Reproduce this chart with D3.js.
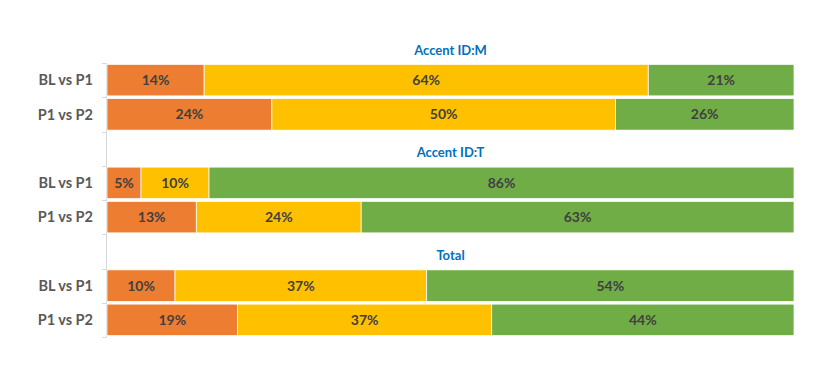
<!DOCTYPE html>
<html><head><meta charset="utf-8">
<script src="https://cdn.jsdelivr.net/npm/d3@7"></script>
<style>body{margin:0;background:#fff}svg{display:block}</style>
</head><body>
<script>
const groups = ["Accent ID:M", "Accent ID:T", "Total"];
const comparisons = ["BL vs P1", "P1 vs P2"];
const seriesNames = ["low", "mid", "high"];
const colors = ["#ED7D31", "#FFC000", "#70AD47"];
const lowValues  = [14, 24, 5, 13, 10, 19];
const midValues  = [64, 50, 10, 24, 37, 37];
const highValues = [21, 26, 86, 63, 54, 44];

const W = 830, H = 376;
const svg = d3.select("body").append("svg").attr("width", W).attr("height", H);

const slots = [];
const rows = [];
groups.forEach((g, gi) => {
  slots.push("T|" + g);
  comparisons.forEach((c, ci) => {
    const k = gi * comparisons.length + ci;
    const key = g + "|" + c;
    slots.push(key);
    rows.push({key, label: c, low: lowValues[k], mid: midValues[k], high: highValues[k]});
  });
});

const y = d3.scaleBand().domain(slots).range([28.75, 337]).paddingInner(0.08).paddingOuter(0.04);
const x = d3.scaleLinear().domain([0, 1]).range([107, 794]);

const stack = d3.stack().keys(["low", "mid", "high"]).offset(d3.stackOffsetExpand);
const series = stack(rows);

const step = y.step();
const firstRowTop = y(rows[0].key) - (step - y.bandwidth()) / 2;
const lastRowBottom = y(rows[rows.length - 1].key) + y.bandwidth() + (step - y.bandwidth()) / 2;
svg.append("line").attr("x1", 106.5).attr("x2", 106.5)
  .attr("y1", firstRowTop).attr("y2", lastRowBottom)
  .attr("stroke", "#d9d9d9").attr("stroke-width", 1);
const tickYs = [];
slots.forEach(s => {
  const b = y(s) + y.bandwidth() + (step - y.bandwidth()) / 2;
  if (b <= lastRowBottom + 0.5) tickYs.push(b);
});
tickYs.unshift(firstRowTop);
svg.selectAll(".tick").data(tickYs).join("line")
  .attr("x1", 102).attr("x2", 106.5)
  .attr("y1", d => Math.round(d) + 0.5).attr("y2", d => Math.round(d) + 0.5)
  .attr("stroke", "#d9d9d9");

const gS = svg.selectAll(".series").data(series).join("g").attr("fill", (d, i) => colors[i]);
gS.selectAll("rect").data(d => d).join("rect")
  .attr("x", d => x(d[0]))
  .attr("width", d => x(d[1]) - x(d[0]))
  .attr("y", d => y(d.data.key))
  .attr("height", y.bandwidth())
  .attr("stroke", "#fff").attr("stroke-width", 0.75);

series.forEach((s, si) => {
  svg.selectAll(".lbl" + si).data(s).join("text")
    .attr("x", d => (x(d[0]) + x(d[1])) / 2)
    .attr("y", d => y(d.data.key) + y.bandwidth() / 2)
    .attr("dy", "0.36em")
    .attr("text-anchor", "middle")
    .attr("font-family", "Lato, 'Open Sans', sans-serif")
    .attr("font-weight", "bold")
    .attr("font-size", 14)
    .attr("fill", "#404040")
    .text(d => d.data[s.key] + "%");
});

svg.selectAll(".cat").data(rows).join("text")
  .attr("x", 93)
  .attr("y", d => y(d.key) + y.bandwidth() / 2)
  .attr("dy", "0.36em")
  .attr("text-anchor", "end")
  .attr("font-family", "Lato, 'Open Sans', sans-serif")
  .attr("font-weight", "bold")
  .attr("font-size", 14.5)
  .attr("fill", "#595959")
  .text(d => d.label);

svg.selectAll(".ttl").data(groups).join("text")
  .attr("x", (x(0) + x(1)) / 2)
  .attr("y", g => y("T|" + g) + y.bandwidth() / 2 + 4)
  .attr("dy", "0.36em")
  .attr("text-anchor", "middle")
  .attr("font-family", "Lato, 'Open Sans', sans-serif")
  .attr("font-weight", "bold")
  .attr("font-size", 13)
  .attr("fill", "#0070C0")
  .text(g => g);
</script>
</body></html>
